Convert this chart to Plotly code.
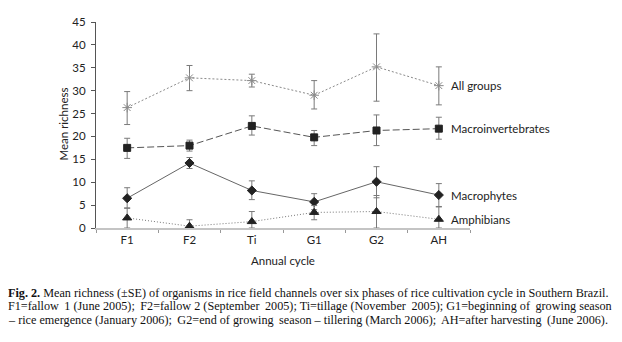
import plotly.graph_objects as go

phases = ["F1", "F2", "Ti", "G1", "G2", "AH"]

all_mean = [26.3, 32.8, 32.2, 29.0, 35.2, 31.1]
all_low = [22.6, 30.0, 30.8, 26.0, 27.7, 26.9]
all_high = [29.8, 35.5, 33.6, 32.2, 42.4, 35.2]

mac_mean = [17.5, 18.0, 22.3, 19.8, 21.3, 21.7]
mac_low = [15.2, 16.8, 20.3, 18.0, 18.0, 19.4]
mac_high = [19.6, 19.2, 24.5, 21.3, 24.7, 24.2]

phy_mean = [6.5, 14.2, 8.2, 5.7, 10.1, 7.2]
phy_low = [4.3, 13.0, 6.2, 4.0, 6.6, 4.7]
phy_high = [8.8, 15.4, 10.3, 7.5, 13.4, 9.7]

amp_mean = [2.2, 0.4, 1.4, 3.4, 3.6, 1.9]
amp_low = [0.0, 0.0, 0.0, 1.8, 0.0, 0.0]
amp_high = [4.4, 1.8, 3.6, 4.9, 7.1, 4.6]

series_names = ["All groups", "Macroinvertebrates", "Macrophytes", "Amphibians"]

TS = "\u2009"  # thin space, used to approximate the justified caption lines
line2_words = "F1=fallow 1 (June 2005); F2=fallow 2 (September 2005); Ti=tillage (November 2005); G1=beginning of growing season".split(" ")
line2 = line2_words[0]
for i, w in enumerate(line2_words[1:]):
    line2 += (" " + TS if i % 3 == 0 else " ") + w
caption_lines = [
    "<b>Fig. 2.</b> Mean richness (±SE) of organisms in rice field channels over six phases of rice cultivation cycle in Southern Brazil.",
    line2,
    "– rice emergence (January 2006);" + TS + " G2=end of growing" + TS + " season – tillering (March 2006);" + TS + " AH=after harvesting" + TS + " (June 2006).",
]

# page body has an 8px default margin: work in page pixels, subtract offset
OFF = 8
W, H = 622 - OFF, 342 - OFF
L, T = 96 - OFF, 15 - OFF
R, B = 622 - 470, 342 - 228
pw, ph = W - L - R, H - T - B

def px(x):
    return (x - OFF - L) / pw

def py(y):
    return 1 - (y - OFF - T) / ph

fig = go.Figure()

def add(mean, low, high, dash, symbol, mcolor, size, lcolor, lw=1.0):
    plus = [h - m for h, m in zip(high, mean)]
    minus = [m - l for m, l in zip(mean, low)]
    fig.add_trace(go.Scatter(
        x=phases, y=mean, mode="lines+markers",
        line=dict(color=lcolor, width=lw, dash=dash),
        marker=dict(symbol=symbol, color=mcolor, size=size,
                    line=dict(color=mcolor, width=1)),
        error_y=dict(type="data", symmetric=False, array=plus, arrayminus=minus,
                     color="#7a7a7a", thickness=1, width=3),
        cliponaxis=False, showlegend=False,
    ))

add(all_mean, all_low, all_high, "2px,2px", "asterisk-open", "#8a8a8a", 8, "#8a8a8a")
add(mac_mean, mac_low, mac_high, "7px,3px", "square", "#222222", 7, "#555555")
add(phy_mean, phy_low, phy_high, "solid", "diamond", "#222222", 7, "#666666")
add(amp_mean, amp_low, amp_high, "1px,2px", "triangle-up", "#222222", 8, "#777777")

label_y = [all_mean[-1], mac_mean[-1], phy_mean[-1] - 0.2, amp_mean[-1] - 0.1]
annotations = []
for name, yv in zip(series_names, label_y):
    annotations.append(dict(x=5, y=yv, xref="x", yref="y", text=name, showarrow=False,
                            xanchor="left", yanchor="middle", xshift=10,
                            font=dict(family="Lato", size=11.5, color="#222222")))

annotations.append(dict(x=px(64), y=py(121), xref="paper", yref="paper", text="Mean richness",
                        showarrow=False, textangle=-90, xanchor="center", yanchor="middle",
                        font=dict(family="Lato", size=11.5, color="#222222")))
annotations.append(dict(x=px(283), y=py(262), xref="paper", yref="paper",
                        text="Annual cycle", showarrow=False, xanchor="center", yanchor="middle",
                        font=dict(family="Lato", size=11.5, color="#222222")))
for i, line in enumerate(caption_lines):
    annotations.append(dict(x=px(6), y=py(295 + 14 * i), xref="paper", yref="paper",
                            text=line, showarrow=False, xanchor="left", yanchor="middle",
                            font=dict(family="Liberation Serif", size=12.2, color="#111111")))

fig.update_layout(
    width=W, height=H,
    margin=dict(l=L, r=R, t=T, b=B),
    paper_bgcolor="white", plot_bgcolor="white",
    annotations=annotations,
    xaxis=dict(type="category", range=[-0.5, 5.5], showgrid=False, showline=True,
               linecolor="#c4c4c4", linewidth=2, ticks="outside", tickson="boundaries",
               ticklen=3, tickcolor="#999999",
               tickfont=dict(family="Lato", size=11.5, color="#222222")),
    yaxis=dict(range=[0, 45], dtick=5, showgrid=False, showline=True, linecolor="#555555",
               linewidth=1, ticks="outside", ticklen=4, tickcolor="#555555", zeroline=False,
               ticklabeloverflow="allow", ticklabelstandoff=3,
               tickfont=dict(family="Lato", size=11.5, color="#222222")),
)

fig.write_html("out.html")
